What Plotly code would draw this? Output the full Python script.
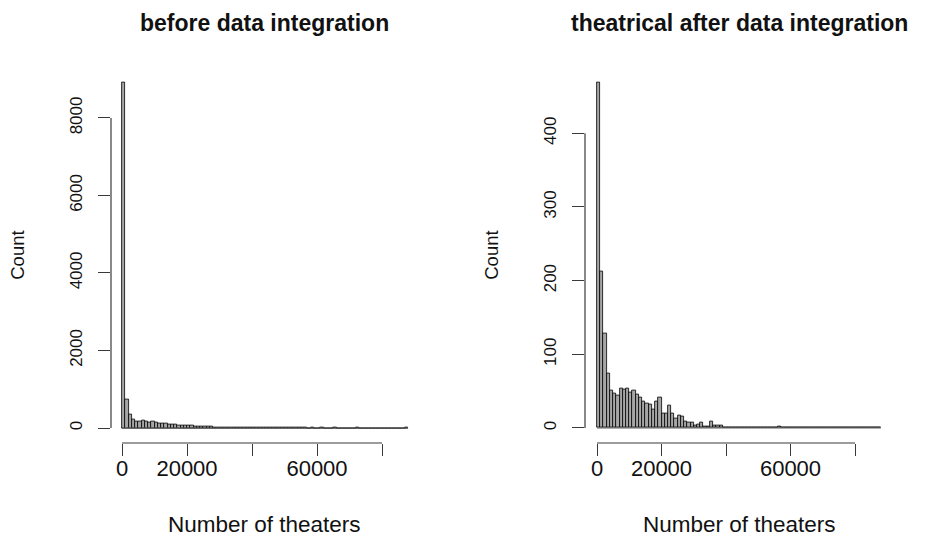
import plotly.graph_objects as go

# ---------------- data ----------------
bin_width = 1000  # histogram bin width (number of theaters)

before_counts = [
    8920, 730, 340, 210, 165, 160, 185, 175, 150, 160,
    140, 125, 115, 110, 95, 90, 80, 75, 70, 60,
    70, 55, 50, 45, 40, 35, 30, 28, 25, 22,
    20, 18, 15, 12, 12, 10, 8, 8, 6, 5,
    5, 4, 4, 3, 3, 3, 2, 2, 2, 2,
    1, 1, 1, 1, 1, 1, 1, 0, 1, 0,
    0, 1, 0, 0, 0, 1, 0, 0, 0, 0,
    0, 0, 1, 0, 0, 0, 0, 0, 0, 0,
    0, 0, 0, 0, 0, 0, 0, 1,
]

after_counts = [
    469, 212, 128, 74, 51, 47, 44, 53, 52, 54,
    48, 51, 46, 42, 36, 33, 32, 25, 36, 42,
    20, 20, 30, 20, 13, 17, 15, 9, 8, 8,
    4, 5, 7, 2, 2, 9, 3, 3, 3, 0,
    0, 0, 0, 0, 0, 1, 0, 1, 0, 0,
    0, 0, 0, 0, 0, 0, 2, 0, 0, 0,
    0, 0, 0, 0, 0, 0, 0, 0, 0, 0,
    0, 0, 0, 0, 0, 0, 0, 0, 0, 0,
    0, 0, 0, 0, 0, 0, 0, 1,
]

x_tick_vals = [0, 20000, 40000, 60000, 80000]
x_tick_text = ["0", "20000", "", "60000", ""]
before_y_ticks = [0, 2000, 4000, 6000, 8000]
after_y_ticks = [0, 100, 200, 300, 400]

panel_titles = ["before data integration", "theatrical after data integration"]
x_title = "Number of theaters"
y_title = "Count"

# ---------------- styling ----------------
FONT = "Liberation Sans, Arial, Helvetica, sans-serif"
W, H = 941, 540
AXIS_COLOR = "#3a3a3a"
TEXT_COLOR = "#111111"
BAR_FILL = "#a6a6a6"

fig = go.Figure()


def add_hist(counts, xa, ya):
    centers = [bin_width * (i + 0.5) for i in range(len(counts))]
    fig.add_trace(go.Bar(
        x=centers, y=counts, width=[bin_width] * len(counts),
        marker=dict(color=BAR_FILL, line=dict(color="#000000", width=0.8)),
        xaxis=xa, yaxis=ya, showlegend=False, hoverinfo="skip",
    ))
    # baseline for empty bins (R draws zero-height bars as a line)
    fig.add_trace(go.Scatter(
        x=[0, bin_width * len(counts)], y=[0, 0], mode="lines",
        line=dict(color="#555555", width=1),
        xaxis=xa, yaxis=ya, showlegend=False, hoverinfo="skip",
    ))


add_hist(before_counts, "x", "y")
add_hist(after_counts, "x2", "y2")

# plot regions (paper fractions)
y_dom = [1 - 443 / H, 1 - 68.5 / H]
x_dom1 = [111 / W, 418 / W]
x_dom2 = [585 / W, 893 / W]

common_x = dict(
    tickvals=x_tick_vals, ticktext=x_tick_text, ticks="outside", ticklen=12,
    tickwidth=1, tickcolor=AXIS_COLOR, showline=False, showgrid=False,
    zeroline=False, tickfont=dict(family=FONT, size=22, color=TEXT_COLOR),
    ticklabelstandoff=-6, fixedrange=True,
)
common_y = dict(
    ticks="outside", ticklen=12, tickwidth=1, tickcolor=AXIS_COLOR,
    showline=False, showgrid=False, zeroline=False, tickangle=-90,
    tickfont=dict(family=FONT, size=17, color=TEXT_COLOR), fixedrange=True,
    ticklabelstandoff=9, domain=y_dom,
)

fig.update_layout(
    width=W, height=H, margin=dict(l=0, r=0, t=0, b=0),
    paper_bgcolor="white", plot_bgcolor="white", showlegend=False,
    xaxis=dict(domain=x_dom1, range=[-3385, 91077], anchor="y", **common_x),
    xaxis2=dict(domain=x_dom2, range=[-3721, 91783], anchor="y2", **common_x),
    yaxis=dict(range=[-387, 9277], anchor="x", tickvals=before_y_ticks,
               ticktext=[str(v) for v in before_y_ticks], **common_y),
    yaxis2=dict(range=[-20.4, 488], anchor="x2", tickvals=after_y_ticks,
                ticktext=[str(v) for v in after_y_ticks], **common_y),
    bargap=0,
)

# R-style axis lines spanning first to last tick
for xa, ya, yt in [("x", "y", before_y_ticks), ("x2", "y2", after_y_ticks)]:
    fig.add_shape(type="line", xref=f"{xa} domain", x0=0, x1=0,
                  yref=ya, y0=yt[0], y1=yt[-1],
                  line=dict(color=AXIS_COLOR, width=1.2))
    fig.add_shape(type="line", yref=f"{ya} domain", y0=0, y1=0,
                  xref=xa, x0=x_tick_vals[0], x1=x_tick_vals[-1],
                  line=dict(color=AXIS_COLOR, width=1.2))

# titles and axis titles
for dom, title, ylab_x in [(x_dom1, panel_titles[0], 18 / W),
                           (x_dom2, panel_titles[1], 492 / W)]:
    cx = (dom[0] + dom[1]) / 2
    fig.add_annotation(x=cx, y=1 - 23 / H, xref="paper", yref="paper",
                       text=f"<b>{title}</b>", showarrow=False,
                       xanchor="center", yanchor="middle",
                       font=dict(family=FONT, size=23, color=TEXT_COLOR))
    fig.add_annotation(x=cx, y=1 - 524 / H, xref="paper", yref="paper",
                       text=x_title, showarrow=False,
                       xanchor="center", yanchor="middle",
                       font=dict(family=FONT, size=22.5, color=TEXT_COLOR))
    fig.add_annotation(x=ylab_x, y=(y_dom[0] + y_dom[1]) / 2,
                       xref="paper", yref="paper", text=y_title,
                       textangle=-90, showarrow=False,
                       xanchor="center", yanchor="middle",
                       font=dict(family=FONT, size=18.5, color=TEXT_COLOR))

fig.write_html("out.html", config={"displayModeBar": False})
